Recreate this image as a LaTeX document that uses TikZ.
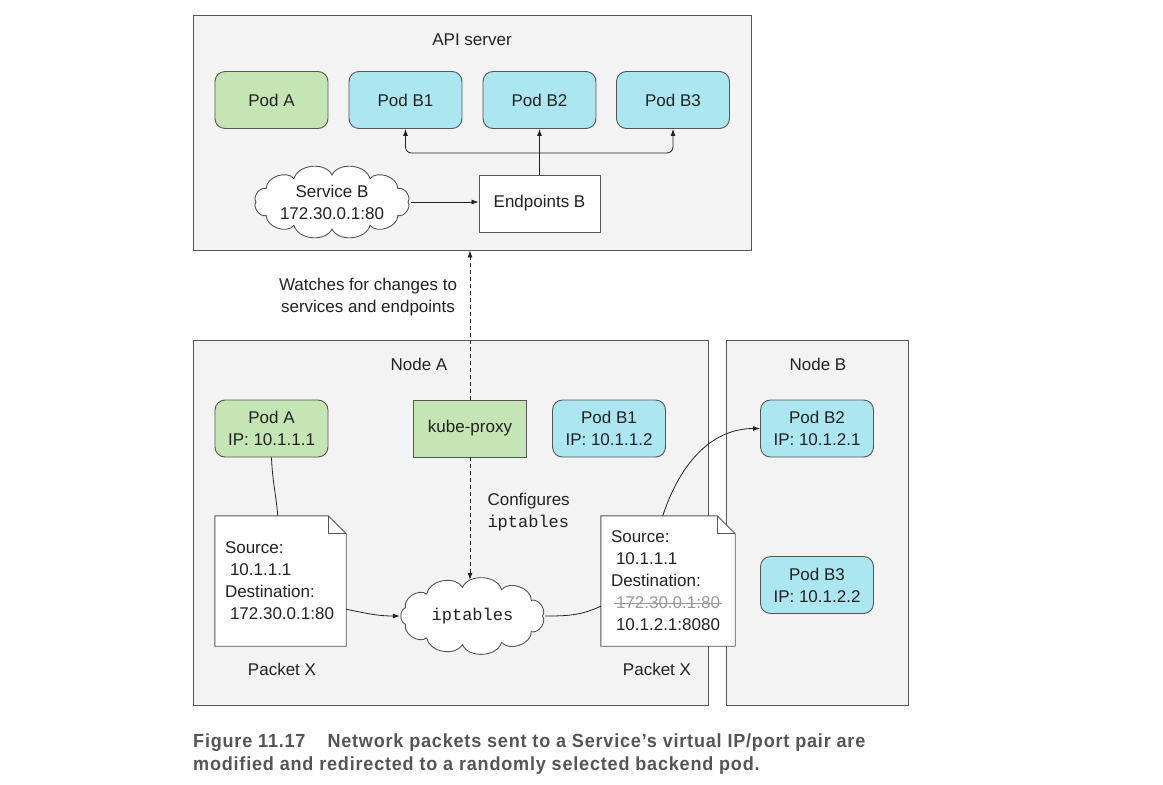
\documentclass[tikz,border=0pt]{standalone}
\usepackage{fontspec}
\setmainfont{Liberation Sans}
\setmonofont{Liberation Mono}
\newfontfamily\capfont[FakeStretch=0.95,LetterSpace=4.2]{Liberation Sans Bold}
\usetikzlibrary{shapes.geometric,arrows.meta,calc}
\pgfdeclarelayer{back}
\pgfdeclarelayer{mid}
\pgfsetlayers{back,mid,main}
\definecolor{boxgray}{HTML}{F3F3F3}
\definecolor{edge}{HTML}{555555}
\definecolor{podgreen}{HTML}{C6E5B4}
\definecolor{podblue}{HTML}{ABE6F1}
\definecolor{ink}{HTML}{222222}
\definecolor{capgray}{HTML}{555555}
\definecolor{strikegray}{HTML}{9A9A9A}
\newcommand{\mystrike}[1]{\setbox0\hbox{#1}\rlap{\kern-2pt\color{strikegray}\rule[0.3em]{\dimexpr\wd0+4pt\relax}{1pt}}\box0}
\tikzset{
  every node/.style={font=\fontsize{17}{22}\selectfont, text=ink},
  container/.style={draw=edge, fill=boxgray, line width=0.9pt, inner sep=0},
  pod/.style={draw=edge, line width=0.9pt, rounded corners=10pt, minimum width=113pt, minimum height=57pt, align=center, inner sep=2pt},
  greenpod/.style={pod, fill=podgreen},
  bluepod/.style={pod, fill=podblue},
  plainbox/.style={draw=edge, line width=0.9pt, fill=white, minimum width=121pt, minimum height=57pt},
  cloudnode/.style={ellipse, inner sep=0, align=center},
  cloudline/.style={draw=edge, fill=white, line width=0.9pt},
  packet/.style={align=left, inner xsep=10pt, inner ysep=0pt, minimum height=130pt},
  conn/.style={draw=ink, line width=0.8pt},
  arr/.style={conn, -{Latex[length=7pt,width=5pt]}},
  dasharr/.style={arr, dash pattern=on 4pt off 3pt},
  caption/.style={font=\capfont\fontsize{19}{22}\selectfont, text=capgray, anchor=west, inner sep=0}
}
\newcommand{\docoutline}[1]{%
  \begin{pgfonlayer}{mid}
  \draw[draw=edge, fill=white, line width=0.9pt] (#1.north west) -- ($(#1.north east)+(-18,0)$) -- ($(#1.north east)+(0,18)$) -- (#1.south east) -- (#1.south west) -- cycle;
  \draw[draw=edge, line width=0.9pt] ($(#1.north east)+(-18,0)$) -- ($(#1.north east)+(-18,18)$) -- ($(#1.north east)+(0,18)$);
  \end{pgfonlayer}}
\newcommand{\cloudoutline}[4]{%
  \begin{pgfonlayer}{mid}
  \draw[cloudline] ($(#1.center)+(#2,0)$) \foreach \k in {1,...,#4}{ to[bend left=70] ($(#1.center)+({#2*cos(360*\k/#4)},{#3*sin(360*\k/#4)})$) } -- cycle;
  \end{pgfonlayer}}
\begin{document}
\begin{tikzpicture}[x=1pt,y=-1pt]
\useasboundingbox (0,0) rectangle (1163,785);
% containers
\begin{pgfonlayer}{back}
\node[container, minimum width=558pt, minimum height=235pt] (api) at (472,132.5) {};
\node[container, minimum width=515pt, minimum height=365pt] (nodeA) at (450.5,522.5) {};
\node[container, minimum width=182pt, minimum height=365pt] (nodeB) at (817,522.5) {};
\end{pgfonlayer}
\node (apilbl) at (472,40) {API server};
\node (nalbl) at (419,364) {Node A};
\node (nblbl) at (818,364) {Node B};
% API server content
\node[greenpod] (apA) at (271.5,100) {Pod A};
\node[bluepod] (apB1) at (405.5,100) {Pod B1};
\node[bluepod] (apB2) at (539.5,100) {Pod B2};
\node[bluepod] (apB3) at (673,100) {Pod B3};
\node[plainbox] (ep) at (539.5,203.5) {Endpoints B};
\node[cloudnode, minimum width=158pt, minimum height=70pt] (svc) at (332,202) {Service B\\172.30.0.1:80};
\cloudoutline{svc}{76}{27}{12}
\draw[arr] (svc.east) -- (svc.east -| ep.west);
\coordinate (bus) at (539.5,153);
\draw[arr] (ep.north) -- (apB2.south);
\draw[arr, rounded corners=6pt] (bus) -| (apB1.south);
\draw[arr, rounded corners=6pt] (bus) -| (apB3.south);
% Node A content
\node[greenpod] (pa) at (271.5,428.5) {Pod A\\IP: 10.1.1.1};
\node[greenpod, rounded corners=0pt] (kp) at (470,428.5) {kube-proxy};
\node[bluepod] (pb1) at (609,428.5) {Pod B1\\IP: 10.1.1.2};
\node[bluepod] (pb2) at (817,428.5) {Pod B2\\IP: 10.1.2.1};
\node[bluepod] (pb3) at (817,585) {Pod B3\\IP: 10.1.2.2};
\draw[dasharr] (kp.north) -- (kp.north |- api.south);
\node[align=center] (watch) at (368,297) {Watches for changes to\\services and endpoints};
\node[cloudnode, minimum width=145pt, minimum height=72pt] (ipt) at (472.5,616) {\texttt{iptables}};
\cloudoutline{ipt}{70}{29}{11}
\draw[dasharr] (kp.south) -- (kp.south |- ipt.north);
\node[align=left, anchor=west] (cfg) at (484,512) {Configures\\\texttt{iptables}};
% packets
\node[packet, text width=111pt] (pktL) at (280.5,581) {Source:\\\hspace*{5pt}10.1.1.1\\Destination:\\\hspace*{5pt}172.30.0.1:80};
\docoutline{pktL}
\node[packet, text width=114pt] (pktR) at (668,581) {Source:\\\hspace*{5pt}10.1.1.1\\Destination:\\\hspace*{5pt}\mystrike{\color{strikegray}172.30.0.1:80}\\\hspace*{5pt}\color{ink}10.1.2.1:8080};
\docoutline{pktR}
\node (pxL) at (282,669) {Packet X};
\node (pxR) at (657,669) {Packet X};
% connectors
\draw[conn] (pa.south) to[out=-88,in=95] ($(pktL.north west)+(63,0)$);
\draw[arr] ($(pktL.south east)+(0,-37)$) to[out=-12,in=180] (ipt.west);
\draw[conn] (ipt.east) to[out=0,in=205] ($(pktR.south west)+(0,-40)$);
\draw[arr] ($(pktR.north west)+(62,0)$) to[out=72,in=180] (pb2.west);
% caption
\node[caption] (cap1) at (193,743) {Figure 11.17\hspace{22pt}Network packets sent to a Service’s virtual IP/port pair are};
\node[caption] (cap2) at (193,766) {modified and redirected to a randomly selected backend pod.};
\end{tikzpicture}
\end{document}
